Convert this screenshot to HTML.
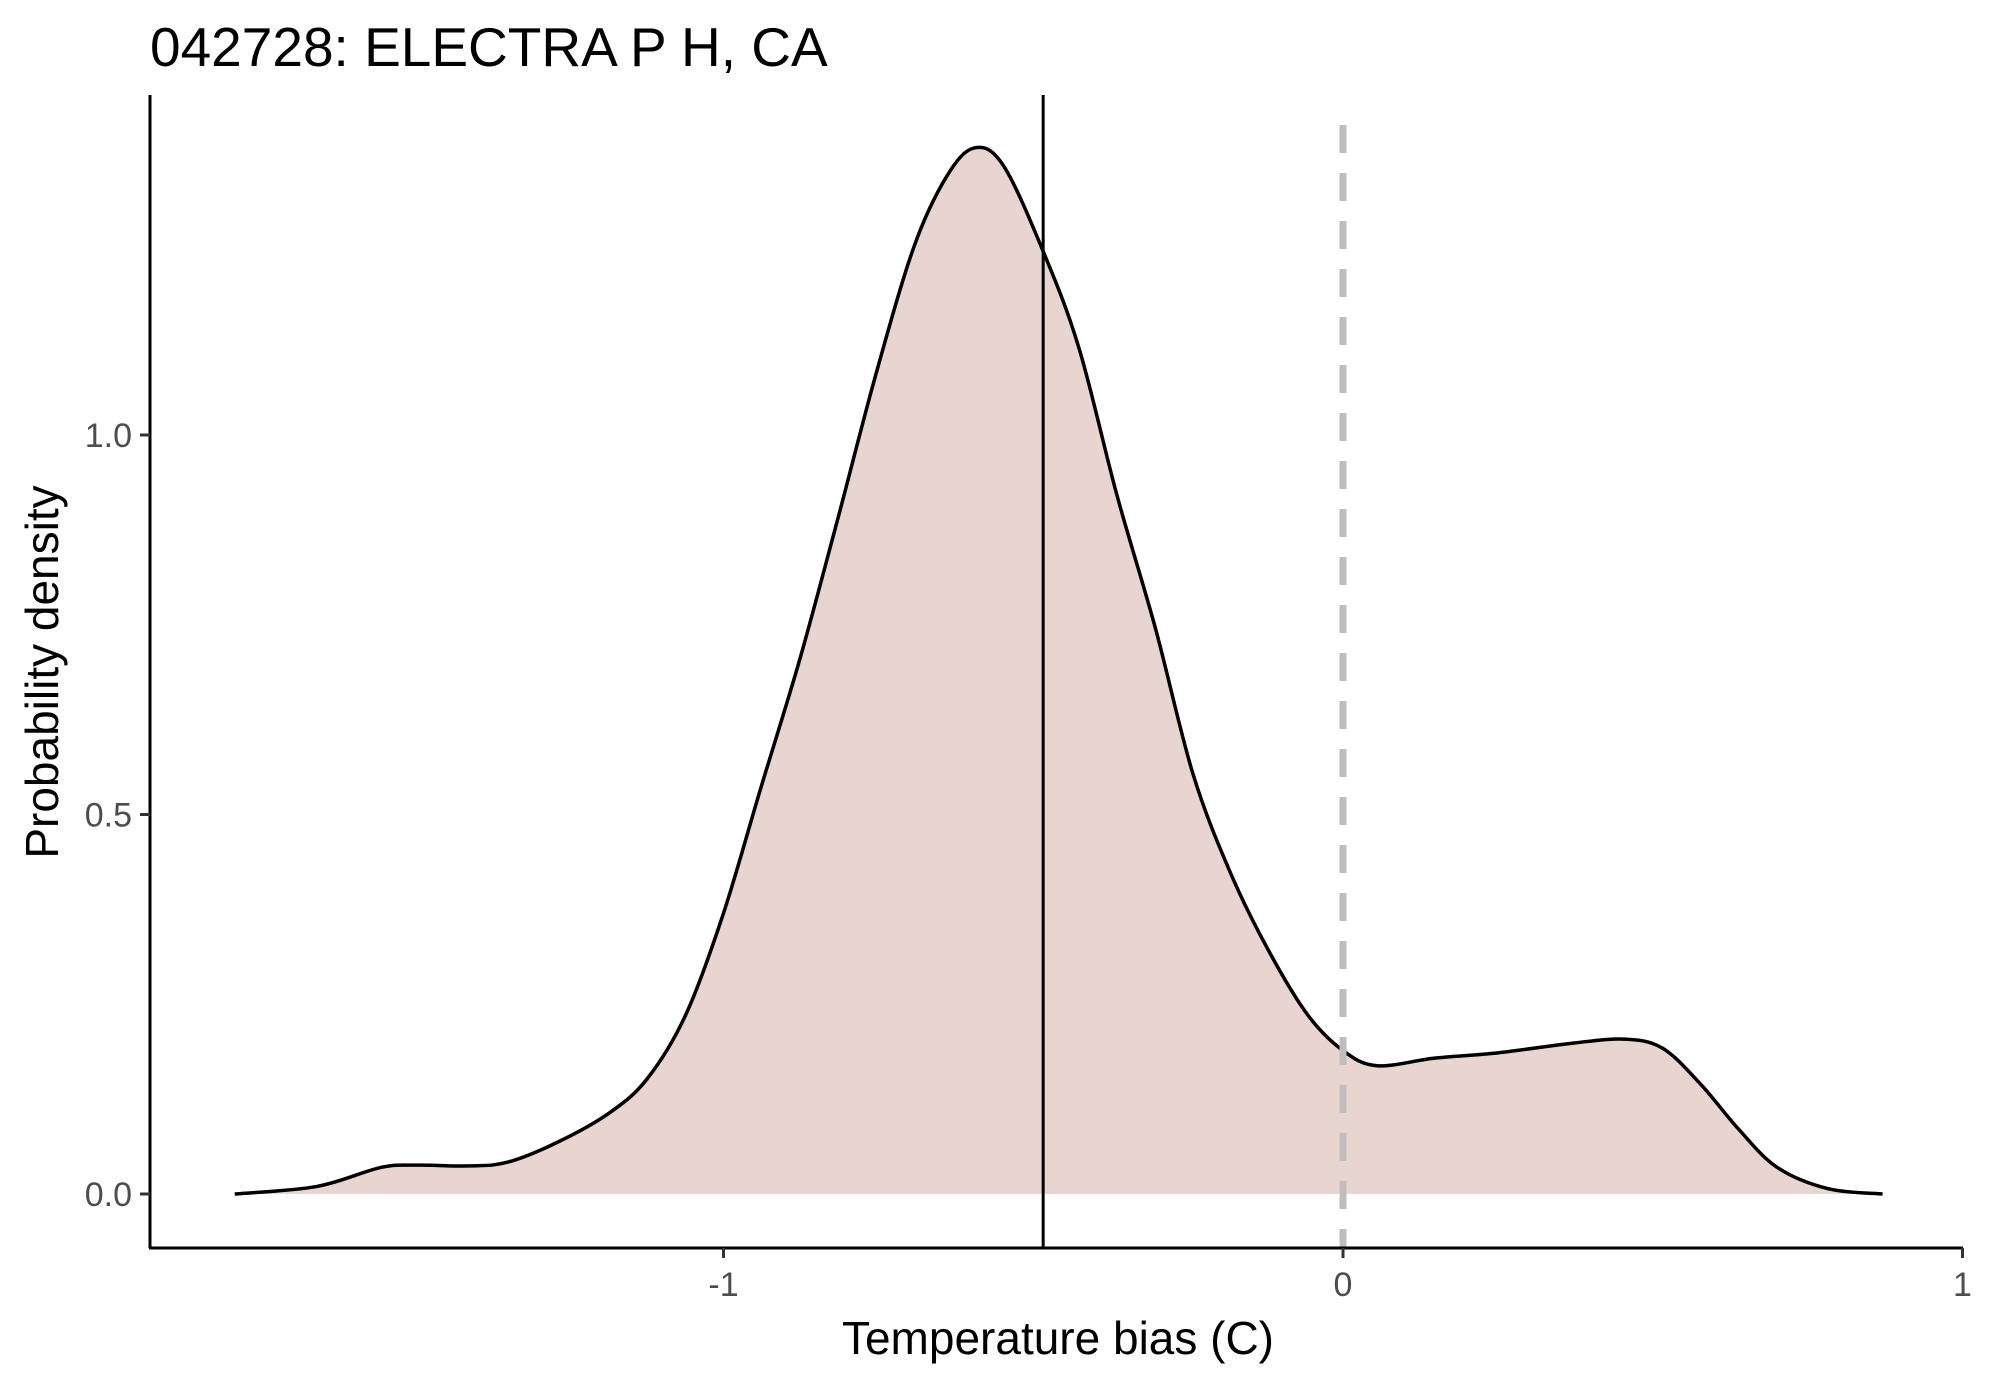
<!DOCTYPE html>
<html><head><meta charset="utf-8"><style>
html,body{margin:0;padding:0;background:#fff;}
svg{display:block;font-family:"Liberation Sans",Arial,sans-serif;}
</style></head><body>
<svg id="chart" width="1990" height="1384" viewBox="0 0 1990 1384">
<text x="150" y="66" font-size="55" fill="#000">042728: ELECTRA P H, CA</text>
<g id="plot"></g>
<line x1="150" y1="95" x2="150" y2="1248" stroke="#000" stroke-width="3"/>
<line x1="149" y1="1248" x2="1963" y2="1248" stroke="#000" stroke-width="3"/>
<g id="ticks"></g>
<text x="1058" y="1354" font-size="46" text-anchor="middle" fill="#000">Temperature bias (C)</text>
<text transform="translate(58,672) rotate(-90)" font-size="46" text-anchor="middle" fill="#000">Probability density</text>
</svg>
<script>
const densX=[-1.789,-1.656,-1.553,-1.492,-1.410,-1.348,-1.266,-1.184,-1.123,-1.061,-1.000,-0.939,-0.877,-0.816,-0.754,-0.693,-0.641,-0.596,-0.549,-0.484,-0.426,-0.365,-0.303,-0.242,-0.180,-0.119,-0.057,0,0.055,0.148,0.250,0.373,0.455,0.516,0.578,0.639,0.701,0.783,0.871];
const densY=[0,0.010,0.035,0.038,0.037,0.042,0.069,0.107,0.152,0.236,0.370,0.537,0.704,0.888,1.080,1.247,1.339,1.378,1.356,1.242,1.114,0.921,0.746,0.553,0.420,0.319,0.236,0.189,0.169,0.179,0.186,0.199,0.204,0.192,0.144,0.085,0.035,0.007,0];
const meanBias=[-0.484];
const refLine=[0];
const xTicks=[-1,0,1];
const xTickLabels=["-1","0","1"];
const yTicks=[0,0.5,1.0];
const yTickLabels=["0.0","0.5","1.0"];

const X0=1343, XS=619.5, Y0=1194, YS=759;
function sx(v){return X0+v*XS;}
function sy(v){return Y0-v*YS;}
const NS="http://www.w3.org/2000/svg";
const plot=document.getElementById('plot'), ticks=document.getElementById('ticks');
function mk(tag,attrs,parent){const e=document.createElementNS(NS,tag);for(const k in attrs)e.setAttribute(k,attrs[k]);parent.appendChild(e);return e;}

const pts=densX.map((x,i)=>[sx(x),sy(densY[i])]);
let d="M"+pts[0][0]+","+pts[0][1];
for(let i=0;i<pts.length-1;i++){
  const p0=pts[Math.max(0,i-1)],p1=pts[i],p2=pts[i+1],p3=pts[Math.min(pts.length-1,i+2)];
  const c1=[p1[0]+(p2[0]-p0[0])/6,p1[1]+(p2[1]-p0[1])/6];
  const c2=[p2[0]-(p3[0]-p1[0])/6,p2[1]-(p3[1]-p1[1])/6];
  d+=" C"+c1[0]+","+c1[1]+" "+c2[0]+","+c2[1]+" "+p2[0]+","+p2[1];
}
const area=mk('path',{d:d+" L"+pts[pts.length-1][0]+","+sy(0)+" L"+pts[0][0]+","+sy(0)+"Z",fill:"#e8d5cf",stroke:"none"},plot);


const line=mk('path',{d:d,fill:"none",stroke:"#000","stroke-width":3.5},plot);



meanBias.forEach(v=>{
  const l=mk('line',{x1:sx(v),x2:sx(v),y1:95,y2:1248,stroke:"#000","stroke-width":3},plot);
  
  
});
refLine.forEach(v=>{
  const l=mk('line',{x1:sx(v),x2:sx(v),y1:125,y2:1248,stroke:"#bebebe","stroke-width":7,"stroke-dasharray":"28,20"},plot);
  
  
});

xTicks.forEach((v,i)=>{
  const t=mk('line',{x1:sx(v),x2:sx(v),y1:1248,y2:1258,stroke:"#333","stroke-width":3},ticks);
  
  
  const tx=mk('text',{x:sx(v),y:1296,"font-size":34,"text-anchor":"middle",fill:"#4d4d4d"},ticks);
  tx.textContent=xTickLabels[i];
  
  
});
yTicks.forEach((v,i)=>{
  const t=mk('line',{x1:140,x2:150,y1:sy(v),y2:sy(v),stroke:"#333","stroke-width":3},ticks);
  
  
  const tx=mk('text',{x:132,y:sy(v)+12,"font-size":34,"text-anchor":"end",fill:"#4d4d4d"},ticks);
  tx.textContent=yTickLabels[i];
  
  
});
</script>
</body></html>
